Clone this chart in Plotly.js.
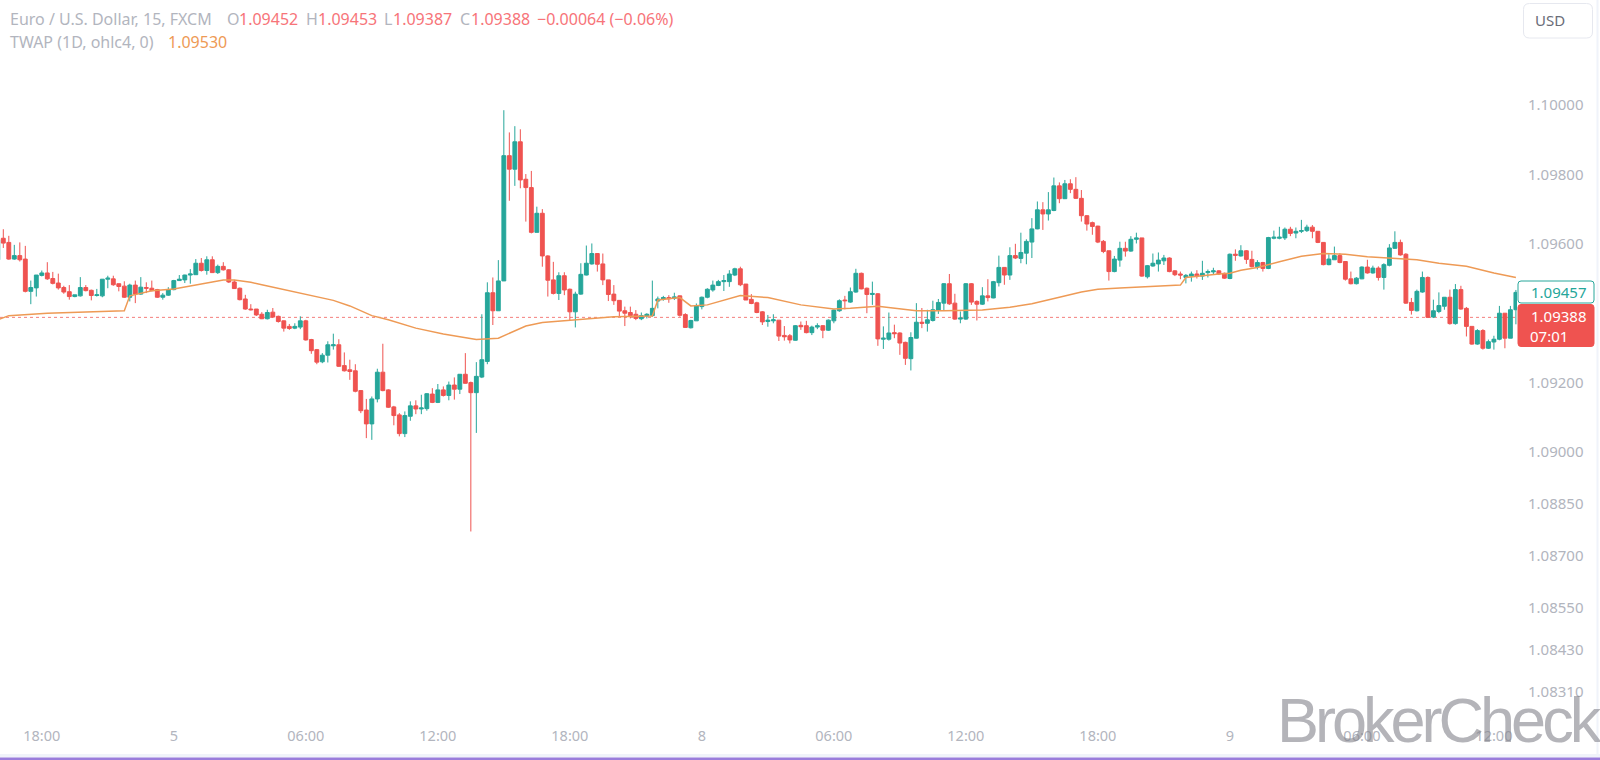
<!DOCTYPE html>
<html><head><meta charset="utf-8">
<script src="https://cdn.plot.ly/plotly-3.0.1.min.js"></script>
<style>html,body{margin:0;padding:0;background:#fff}#chart{width:1600px;height:760px}
.annotation:last-child text{letter-spacing:-4px}
</style>
</head><body><div id="chart"></div>
<script>
const opens=[1.09554,
1.09616,1.09604,1.09556,1.09566,1.09556,1.09463,1.09473,1.09509,1.09516,1.09500,
1.09487,1.09474,1.09462,1.09448,1.09450,1.09474,1.09466,1.09451,1.09450,1.09498,
1.09499,1.09485,1.09478,1.09446,1.09481,1.09455,1.09474,1.09472,1.09468,1.09446,
1.09452,1.09468,1.09494,1.09496,1.09510,1.09511,1.09544,1.09523,1.09554,1.09517,
1.09535,1.09525,1.09490,1.09472,1.09441,1.09412,1.09412,1.09397,1.09384,1.09403,
1.09391,1.09378,1.09362,1.09357,1.09360,1.09378,1.09324,1.09295,1.09260,1.09279,
1.09306,1.09309,1.09249,1.09237,1.09234,1.09177,1.09121,1.09081,1.09153,1.09230,
1.09179,1.09130,1.09107,1.09053,1.09103,1.09133,1.09124,1.09125,1.09167,1.09143,
1.09179,1.09163,1.09193,1.09181,1.09224,1.09200,1.09171,1.09216,1.09261,1.09459,
1.09407,1.09493,1.09854,1.09815,1.09894,1.09786,1.09762,1.09633,1.09688,1.09565,
1.09496,1.09457,1.09508,1.09469,1.09404,1.09455,1.09510,1.09542,1.09572,1.09542,
1.09496,1.09455,1.09437,1.09407,1.09402,1.09397,1.09384,1.09392,1.09393,1.09435,
1.09441,1.09445,1.09443,1.09450,1.09396,1.09358,1.09378,1.09419,1.09446,1.09467,
1.09480,1.09491,1.09491,1.09510,1.09528,1.09484,1.09440,1.09430,1.09404,1.09376,
1.09378,1.09380,1.09336,1.09335,1.09322,1.09365,1.09364,1.09344,1.09360,1.09364,
1.09351,1.09378,1.09407,1.09438,1.09432,1.09461,1.09515,1.09472,1.09454,1.09456,
1.09325,1.09325,1.09344,1.09343,1.09316,1.09269,1.09328,1.09374,1.09371,1.09379,
1.09408,1.09429,1.09485,1.09429,1.09383,1.09383,1.09485,1.09434,1.09426,1.09450,
1.09444,1.09488,1.09532,1.09510,1.09566,1.09558,1.09573,1.09605,1.09643,1.09698,
1.09686,1.09696,1.09767,1.09730,1.09773,1.09757,1.09731,1.09681,1.09661,1.09651,
1.09607,1.09580,1.09520,1.09553,1.09587,1.09579,1.09613,1.09617,1.09505,1.09536,
1.09542,1.09551,1.09559,1.09522,1.09513,1.09503,1.09507,1.09513,1.09507,1.09517,
1.09519,1.09522,1.09515,1.09500,1.09570,1.09565,1.09580,1.09555,1.09534,1.09546,
1.09529,1.09616,1.09616,1.09617,1.09642,1.09631,1.09636,1.09638,1.09648,1.09636,
1.09604,1.09540,1.09554,1.09566,1.09549,1.09499,1.09485,1.09499,1.09533,1.09516,
1.09530,1.09503,1.09538,1.09587,1.09604,1.09570,1.09431,1.09407,1.09461,1.09503,
1.09389,1.09405,1.09420,1.09446,1.09370,1.09468,1.09414,1.09362,1.09311,1.09350,
1.09299,1.09317,1.09325,1.09400,1.09328,1.09410];
const highs=[1.09620,
1.09642,1.09623,1.09597,1.09604,1.09594,1.09494,1.09510,1.09523,1.09547,1.09519,
1.09514,1.09479,1.09481,1.09453,1.09504,1.09481,1.09468,1.09470,1.09498,1.09508,
1.09508,1.09485,1.09492,1.09485,1.09494,1.09504,1.09489,1.09494,1.09470,1.09458,
1.09475,1.09496,1.09510,1.09511,1.09527,1.09556,1.09559,1.09564,1.09564,1.09540,
1.09547,1.09527,1.09496,1.09474,1.09453,1.09426,1.09412,1.09403,1.09410,1.09415,
1.09393,1.09379,1.09369,1.09371,1.09391,1.09381,1.09326,1.09297,1.09285,1.09319,
1.09341,1.09325,1.09287,1.09266,1.09253,1.09178,1.09153,1.09160,1.09240,1.09312,
1.09181,1.09133,1.09112,1.09117,1.09146,1.09149,1.09165,1.09170,1.09184,1.09196,
1.09189,1.09203,1.09215,1.09224,1.09285,1.09203,1.09259,1.09397,1.09489,1.09503,
1.09553,1.09985,1.09921,1.09939,1.09930,1.09801,1.09810,1.09707,1.09700,1.09567,
1.09548,1.09518,1.09518,1.09471,1.09462,1.09544,1.09595,1.09601,1.09572,1.09572,
1.09496,1.09481,1.09437,1.09419,1.09419,1.09409,1.09402,1.09400,1.09494,1.09448,
1.09450,1.09452,1.09459,1.09451,1.09400,1.09381,1.09428,1.09448,1.09472,1.09494,
1.09496,1.09510,1.09524,1.09531,1.09534,1.09484,1.09455,1.09433,1.09406,1.09395,
1.09397,1.09380,1.09363,1.09340,1.09366,1.09376,1.09378,1.09364,1.09371,1.09366,
1.09382,1.09411,1.09440,1.09450,1.09474,1.09528,1.09517,1.09474,1.09491,1.09458,
1.09362,1.09402,1.09367,1.09345,1.09318,1.09345,1.09429,1.09415,1.09410,1.09436,
1.09441,1.09487,1.09513,1.09456,1.09405,1.09487,1.09487,1.09437,1.09475,1.09498,
1.09493,1.09566,1.09533,1.09590,1.09600,1.09632,1.09613,1.09674,1.09722,1.09720,
1.09749,1.09791,1.09777,1.09784,1.09786,1.09792,1.09755,1.09683,1.09664,1.09652,
1.09611,1.09580,1.09565,1.09606,1.09606,1.09622,1.09632,1.09617,1.09539,1.09572,
1.09575,1.09568,1.09561,1.09524,1.09520,1.09513,1.09520,1.09524,1.09551,1.09526,
1.09531,1.09524,1.09517,1.09572,1.09584,1.09596,1.09582,1.09580,1.09553,1.09548,
1.09620,1.09638,1.09649,1.09647,1.09649,1.09647,1.09669,1.09655,1.09654,1.09636,
1.09605,1.09570,1.09592,1.09573,1.09549,1.09520,1.09504,1.09535,1.09554,1.09537,
1.09535,1.09544,1.09599,1.09636,1.09612,1.09573,1.09444,1.09468,1.09520,1.09506,
1.09439,1.09460,1.09446,1.09468,1.09484,1.09479,1.09418,1.09362,1.09354,1.09354,
1.09324,1.09335,1.09421,1.09400,1.09421,1.09467];
const lows=[1.09552,
1.09588,1.09554,1.09554,1.09549,1.09460,1.09426,1.09448,1.09506,1.09496,1.09483,
1.09468,1.09456,1.09439,1.09446,1.09448,1.09463,1.09437,1.09448,1.09446,1.09472,
1.09479,1.09463,1.09444,1.09434,1.09429,1.09453,1.09458,1.09463,1.09444,1.09439,
1.09450,1.09466,1.09493,1.09487,1.09485,1.09511,1.09520,1.09511,1.09516,1.09513,
1.09523,1.09487,1.09470,1.09437,1.09410,1.09408,1.09392,1.09383,1.09382,1.09386,
1.09373,1.09347,1.09352,1.09354,1.09354,1.09321,1.09283,1.09253,1.09256,1.09258,
1.09295,1.09245,1.09232,1.09208,1.09172,1.09112,1.09040,1.09035,1.09143,1.09175,
1.09127,1.09077,1.09045,1.09043,1.09090,1.09109,1.09109,1.09119,1.09141,1.09141,
1.09160,1.09149,1.09151,1.09167,1.09197,1.08771,1.09055,1.09213,1.09253,1.09366,
1.09407,1.09493,1.09724,1.09767,1.09760,1.09664,1.09630,1.09633,1.09534,1.09448,
1.09454,1.09438,1.09452,1.09380,1.09359,1.09453,1.09509,1.09540,1.09520,1.09481,
1.09435,1.09424,1.09390,1.09363,1.09385,1.09380,1.09380,1.09385,1.09390,1.09414,
1.09436,1.09430,1.09438,1.09390,1.09358,1.09356,1.09378,1.09411,1.09443,1.09462,
1.09478,1.09464,1.09476,1.09507,1.09478,1.09438,1.09426,1.09400,1.09366,1.09361,
1.09371,1.09320,1.09321,1.09313,1.09321,1.09352,1.09342,1.09337,1.09354,1.09328,
1.09349,1.09371,1.09404,1.09411,1.09430,1.09459,1.09469,1.09400,1.09424,1.09306,
1.09297,1.09321,1.09328,1.09280,1.09251,1.09235,1.09327,1.09357,1.09347,1.09376,
1.09398,1.09408,1.09424,1.09381,1.09371,1.09381,1.09424,1.09379,1.09424,1.09434,
1.09443,1.09477,1.09482,1.09496,1.09556,1.09544,1.09541,1.09559,1.09642,1.09640,
1.09667,1.09694,1.09717,1.09729,1.09746,1.09729,1.09664,1.09638,1.09626,1.09602,
1.09573,1.09494,1.09518,1.09534,1.09563,1.09577,1.09601,1.09505,1.09500,1.09534,
1.09520,1.09539,1.09518,1.09507,1.09498,1.09486,1.09491,1.09500,1.09496,1.09503,
1.09513,1.09510,1.09499,1.09498,1.09551,1.09563,1.09542,1.09532,1.09526,1.09520,
1.09527,1.09613,1.09613,1.09611,1.09622,1.09616,1.09631,1.09634,1.09616,1.09602,
1.09538,1.09538,1.09554,1.09544,1.09494,1.09483,1.09483,1.09498,1.09514,1.09514,
1.09494,1.09468,1.09535,1.09585,1.09566,1.09427,1.09396,1.09405,1.09459,1.09386,
1.09386,1.09400,1.09410,1.09367,1.09367,1.09410,1.09333,1.09309,1.09309,1.09295,
1.09297,1.09295,1.09322,1.09299,1.09328,1.09368];
const closes=[1.09612,
1.09602,1.09556,1.09566,1.09554,1.09463,1.09474,1.09510,1.09516,1.09499,1.09486,
1.09473,1.09461,1.09448,1.09453,1.09474,1.09465,1.09451,1.09453,1.09498,1.09501,
1.09482,1.09477,1.09446,1.09481,1.09455,1.09475,1.09472,1.09465,1.09446,1.09452,
1.09468,1.09494,1.09498,1.09510,1.09513,1.09544,1.09523,1.09554,1.09517,1.09535,
1.09525,1.09490,1.09471,1.09439,1.09412,1.09410,1.09395,1.09384,1.09402,1.09389,
1.09376,1.09357,1.09356,1.09362,1.09378,1.09323,1.09292,1.09259,1.09279,1.09309,
1.09309,1.09247,1.09234,1.09232,1.09175,1.09119,1.09081,1.09153,1.09230,1.09177,
1.09129,1.09105,1.09053,1.09105,1.09133,1.09124,1.09127,1.09168,1.09143,1.09179,
1.09163,1.09193,1.09181,1.09224,1.09198,1.09171,1.09218,1.09266,1.09459,1.09407,
1.09493,1.09854,1.09815,1.09894,1.09784,1.09762,1.09633,1.09688,1.09565,1.09495,
1.09457,1.09508,1.09467,1.09404,1.09455,1.09512,1.09544,1.09572,1.09541,1.09496,
1.09454,1.09436,1.09406,1.09400,1.09393,1.09385,1.09393,1.09397,1.09414,1.09441,
1.09445,1.09442,1.09447,1.09394,1.09359,1.09379,1.09421,1.09446,1.09469,1.09481,
1.09491,1.09494,1.09513,1.09528,1.09482,1.09438,1.09428,1.09402,1.09375,1.09380,
1.09381,1.09334,1.09332,1.09323,1.09364,1.09361,1.09344,1.09360,1.09364,1.09351,
1.09380,1.09409,1.09436,1.09436,1.09462,1.09515,1.09470,1.09454,1.09457,1.09326,
1.09328,1.09343,1.09341,1.09314,1.09270,1.09330,1.09374,1.09371,1.09381,1.09410,
1.09431,1.09485,1.09427,1.09383,1.09386,1.09485,1.09432,1.09426,1.09450,1.09445,
1.09491,1.09532,1.09510,1.09566,1.09559,1.09575,1.09607,1.09643,1.09698,1.09686,
1.09698,1.09767,1.09730,1.09773,1.09757,1.09731,1.09681,1.09657,1.09650,1.09605,
1.09578,1.09520,1.09556,1.09587,1.09579,1.09613,1.09617,1.09507,1.09537,1.09544,
1.09553,1.09559,1.09520,1.09511,1.09510,1.09509,1.09513,1.09507,1.09515,1.09520,
1.09522,1.09513,1.09501,1.09570,1.09567,1.09580,1.09555,1.09534,1.09546,1.09529,
1.09618,1.09619,1.09619,1.09642,1.09630,1.09636,1.09638,1.09648,1.09636,1.09604,
1.09540,1.09556,1.09566,1.09546,1.09498,1.09485,1.09501,1.09533,1.09516,1.09530,
1.09503,1.09540,1.09588,1.09604,1.09568,1.09429,1.09408,1.09463,1.09503,1.09388,
1.09407,1.09422,1.09446,1.09370,1.09468,1.09412,1.09362,1.09311,1.09350,1.09299,
1.09318,1.09325,1.09400,1.09328,1.09410,1.09460];
const twapBars=[-1,1,8,22,23,27,31,36,40,42,45,47,56,60,63,67,70,75,80,84,86,90,92,95,98,102,107,111,118,119,123,125,128,134,139,145,151,154,159,163,166,171,178,183,187,192,196,199,203,214,215,221,223,225,228,232,236,240,244,248,252,257,261,266,271,275];
const twapValues=[1.09381,1.09393,1.09400,1.09407,1.09450,1.09465,1.09470,1.09485,1.09496,1.09496,1.09489,1.09482,1.09451,1.09437,1.09421,1.09393,1.09381,1.09357,1.09340,1.09328,1.09324,1.09328,1.09342,1.09363,1.09373,1.09378,1.09385,1.09390,1.09392,1.09438,1.09445,1.09421,1.09424,1.09451,1.09445,1.09424,1.09412,1.09414,1.09420,1.09412,1.09407,1.09407,1.09409,1.09417,1.09427,1.09446,1.09461,1.09469,1.09473,1.09481,1.09503,1.09513,1.09515,1.09524,1.09532,1.09548,1.09564,1.09572,1.09570,1.09563,1.09559,1.09554,1.09544,1.09535,1.09516,1.09503];
const yTicks=[1.10000,1.09800,1.09600,1.09200,1.09000,1.08850,1.08700,1.08550,1.08430,1.08310];
const xTickBars=[7,31,55,79,103,127,151,175,199,223,247,271];
const xTickLabels=["18:00","5","06:00","12:00","18:00","8","06:00","12:00","18:00","9","06:00","12:00"];
const lastPrice=1.09388, sessionPrice=1.09457;
const UP='#26a69a', DOWN='#ef5350', GREY='#b2b5be', SOFTRED='#f77479', ORANGE='#ee9a55';
const TICK='"Noto Sans",sans-serif';
const W=1517, H=720;
const px=(x)=>x/W, py=(y)=>1-y/H;
function label(text,x,y,color){return {text:text,xref:'paper',yref:'paper',x:px(x),y:py(y),xanchor:'left',yanchor:'middle',showarrow:false,font:{family:TICK,size:16,color:color}};}
function rounded(x0,y0,x1,y1,r,fill,line){
 const X=px,Y=py;
 const path='M'+X(x0+r)+','+Y(y0)+' L'+X(x1-r)+','+Y(y0)+' Q'+X(x1)+','+Y(y0)+' '+X(x1)+','+Y(y0+r)+
  ' L'+X(x1)+','+Y(y1-r)+' Q'+X(x1)+','+Y(y1)+' '+X(x1-r)+','+Y(y1)+' L'+X(x0+r)+','+Y(y1)+
  ' Q'+X(x0)+','+Y(y1)+' '+X(x0)+','+Y(y1-r)+' L'+X(x0)+','+Y(y0+r)+' Q'+X(x0)+','+Y(y0)+' '+X(x0+r)+','+Y(y0)+' Z';
 return {type:'path',xref:'paper',yref:'paper',path:path,fillcolor:fill,line:line};
}
const bars=opens.map((_,k)=>k-1);
const candles={type:'candlestick',x:bars,open:opens,high:highs,low:lows,close:closes,
 increasing:{line:{color:UP,width:1},fillcolor:UP},decreasing:{line:{color:DOWN,width:1},fillcolor:DOWN},
 whiskerwidth:0,hoverinfo:'skip',showlegend:false};
const twap={type:'scatter',mode:'lines',x:twapBars,y:twapValues,line:{color:ORANGE,width:1.5},hoverinfo:'skip',showlegend:false};
const layout={width:1600,height:760,margin:{l:0,r:83,t:0,b:40,pad:0},paper_bgcolor:'#fff',plot_bgcolor:'#fff',showlegend:false,boxgap:0.3,boxgroupgap:0,
 xaxis:{type:'linear',range:[-0.6,275.2],rangeslider:{visible:false},showgrid:false,zeroline:false,showline:false,tickmode:'array',tickvals:xTickBars,ticktext:xTickLabels,ticks:'',ticklabelstandoff:5,tickfont:{family:TICK,size:14.5,color:GREY},fixedrange:true},
 yaxis:{type:'linear',side:'right',range:[1.082277,1.103026],showgrid:false,zeroline:false,showline:false,tickmode:'array',tickvals:yTicks,ticktext:yTicks.map(v=>v.toFixed(5)),ticks:'',ticklabelstandoff:10,tickfont:{family:TICK,size:15,color:GREY},fixedrange:true},
 shapes:[
  {type:'line',xref:'paper',yref:'y',x0:0,x1:1,y0:lastPrice,y1:lastPrice,line:{color:'rgba(239,83,80,0.75)',width:1,dash:'dot'},layer:'below'},
  {type:'rect',xref:'paper',yref:'paper',x0:px(0),x1:px(1600),y0:py(754),y1:py(757.5),fillcolor:'#f0f3fa',line:{width:0}},
  {type:'rect',xref:'paper',yref:'paper',x0:px(0),x1:px(1600),y0:py(757.5),y1:py(760),fillcolor:'#9a7ddb',line:{width:0}},
  {type:'rect',xref:'paper',yref:'paper',x0:px(1596.5),x1:px(1598.5),y0:py(0),y1:py(757),fillcolor:'#f0f3fa',line:{width:0}},
  rounded(1523.5,3.5,1592.5,38,6,'#fff',{color:'#e6e8ef',width:1}),
  rounded(1518,281,1594,303,3,'#fff',{color:UP,width:1}),
  rounded(1518,304.5,1594,346.5,3,DOWN,{color:DOWN,width:1})
 ],
 annotations:[
  label('Euro / U.S. Dollar, 15, FXCM',8,18.5,GREY),
  label('O',225,18.5,GREY),label('1.09452',237,18.5,SOFTRED),
  label('H',304,18.5,GREY),label('1.09453',316,18.5,SOFTRED),
  label('L',382,18.5,GREY),label('1.09387',391,18.5,SOFTRED),
  label('C',458,18.5,GREY),label('1.09388',469,18.5,SOFTRED),
  label('\u22120.00064 (\u22120.06%)',535,18.5,SOFTRED),
  label('TWAP (1D, ohlc4, 0)',8,42,GREY),label('1.09530',166,42,ORANGE),
  {text:'USD',xref:'paper',yref:'paper',x:px(1549.5),y:py(20),xanchor:'center',yanchor:'middle',showarrow:false,font:{family:TICK,size:15,color:'#6a6d78'}},
  {text:sessionPrice.toFixed(5),xref:'paper',yref:'paper',x:px(1529),y:py(292),xanchor:'left',yanchor:'middle',showarrow:false,font:{family:TICK,size:15,color:UP}},
  {text:lastPrice.toFixed(5),xref:'paper',yref:'paper',x:px(1529),y:py(316),xanchor:'left',yanchor:'middle',showarrow:false,font:{family:TICK,size:15,color:'#fff'}},
  {text:'07:01',xref:'paper',yref:'paper',x:px(1528),y:py(336),xanchor:'left',yanchor:'middle',showarrow:false,font:{family:TICK,size:15,color:'#fff'}},
  {text:'BrokerCheck',xref:'paper',yref:'paper',x:px(1253),y:py(720),xanchor:'left',yanchor:'middle',showarrow:false,font:{family:'"Liberation Sans",sans-serif',size:63,color:'rgba(130,130,138,0.6)'}}
 ]};
Plotly.newPlot('chart',[candles,twap],layout,{displayModeBar:false,staticPlot:true});
</script></body></html>
